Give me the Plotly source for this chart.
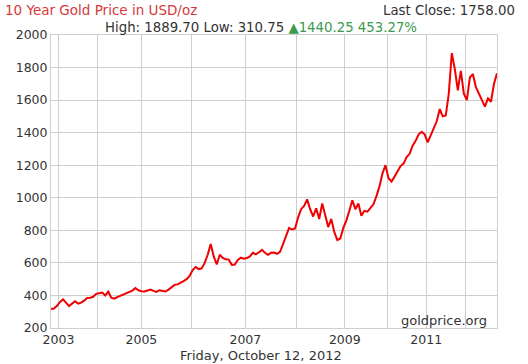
import plotly.graph_objects as go

# Observations (equally spaced samples, late 2002 .. Oct 12 2012), USD/oz
prices = [
    317, 320, 336, 360, 376, 354, 334, 350, 364, 350,
    356, 368, 385, 386, 392, 410, 412, 418, 400, 424,
    386, 380, 390, 398, 404, 410, 418, 430, 446, 432,
    426, 424, 430, 436, 428, 422, 432, 428, 424, 436,
    448, 465, 468, 476, 488, 500, 520, 556, 575, 562,
    566, 600, 650, 716, 640, 590, 650, 630, 622, 620,
    588, 590, 618, 632, 626, 630, 640, 662, 652, 665,
    680, 662, 650, 662, 664, 656, 668, 715, 760, 815,
    805, 812, 880, 930, 950, 990, 930, 885, 935, 870,
    965, 885, 820, 870, 790, 740, 750, 815, 860, 920,
    985, 930, 965, 890, 920, 915, 935, 960, 1010, 1070,
    1150, 1200, 1120, 1100, 1130, 1165, 1195, 1210, 1250, 1270,
    1320, 1350, 1390, 1405, 1390, 1340, 1380, 1430, 1470, 1545,
    1500, 1505, 1640, 1889, 1790, 1660, 1780, 1640, 1600, 1740,
    1760, 1680, 1640, 1600, 1560, 1610, 1590, 1700, 1765,
]
obs_index = list(range(len(prices)))

# Observation position where each calendar year begins
year_start_obs = [2.5, 15.5, 30, 46.5, 64.5, 81.5, 97.5, 111.5, 124.5, 137.5]
year_labels = ["2003", "", "2005", "", "2007", "", "2009", "", "2011", ""]

y_ticks = [200, 400, 600, 800, 1000, 1200, 1400, 1600, 1800, 2000]

title_text = "10 Year Gold Price in USD/oz"
last_close_text = "Last Close: 1758.00"
stats_text = "High: 1889.70 Low: 310.75 "
change_text = "▲1440.25 453.27%"
date_text = "Friday, October 12, 2012"
source_text = "goldprice.org"

FONT = "DejaVu Sans"
GRID = "#cfcfcf"

fig = go.Figure()
fig.add_trace(go.Scatter(
    x=obs_index, y=prices, mode="lines",
    line=dict(color="rgb(240,0,0)", width=2),
    hoverinfo="skip", showlegend=False,
))

fig.update_layout(
    width=528, height=364,
    margin=dict(l=51, r=31, t=35, b=36),
    paper_bgcolor="white", plot_bgcolor="white",
    font=dict(family=FONT, size=12, color="#333333"),
    xaxis=dict(
        range=[0, len(prices) - 1],
        tickmode="array", tickvals=year_start_obs, ticktext=year_labels,
        showgrid=True, gridcolor=GRID, gridwidth=1,
        showline=True, linecolor=GRID, mirror=True,
        zeroline=False, ticks="", tickfont=dict(size=12.5, color="#333333"),
    ),
    yaxis=dict(
        range=[200, 2000],
        tickmode="array", tickvals=y_ticks,
        showgrid=True, gridcolor=GRID, gridwidth=1,
        showline=True, linecolor=GRID, mirror=True,
        zeroline=False, ticks="", tickfont=dict(size=12.5, color="#333333"),
    ),
)

ann = []
ann.append(dict(text=title_text, xref="paper", yref="paper", x=-0.108, y=1,
                xanchor="left", yanchor="middle", yshift=25, showarrow=False,
                font=dict(family=FONT, size=13.5, color="#d43a3a")))
ann.append(dict(text=last_close_text, xref="paper", yref="paper", x=1.045, y=1,
                xanchor="right", yanchor="middle", yshift=25, showarrow=False,
                font=dict(family=FONT, size=13.3, color="#333333")))
ann.append(dict(text=stats_text + "<span style='color:#3a9a4e'>" + change_text + "</span>",
                xref="paper", yref="paper", x=0.117, y=1,
                xanchor="left", yanchor="middle", yshift=8, showarrow=False,
                font=dict(family=FONT, size=13.3, color="#333333")))
ann.append(dict(text=date_text, xref="paper", yref="paper", x=0.471, y=0,
                xanchor="center", yanchor="middle", yshift=-27, showarrow=False,
                font=dict(family=FONT, size=13, color="#333333")))
ann.append(dict(text=source_text, xref="paper", yref="paper", x=0.982, y=0.027,
                xanchor="right", yanchor="middle", showarrow=False,
                font=dict(family=FONT, size=13, color="#333333")))
fig.update_layout(annotations=ann)

fig.write_html("out.html",
               config={"displayModeBar": False, "staticPlot": True},
               post_script="document.body.style.margin='0';document.body.style.overflow='hidden';")
